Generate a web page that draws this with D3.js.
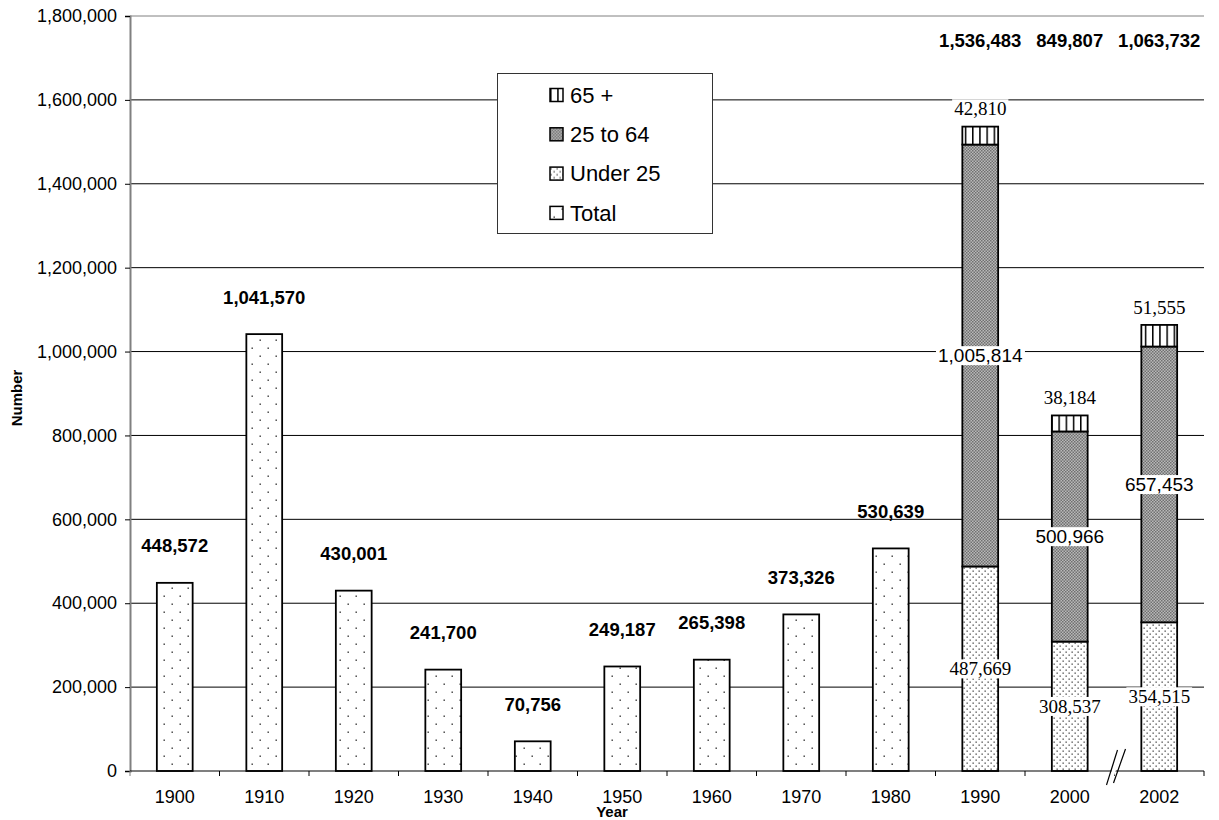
<!DOCTYPE html>
<html lang="en">
<head>
<meta charset="utf-8">
<title>Number by year</title>
<script src="https://d3js.org/d3.v7.min.js"></script>
<style>
  html, body { margin: 0; padding: 0; background: #fff; }
  svg { display: block; }
  text { font-family: Arial, "Liberation Sans", sans-serif; }
</style>
</head>
<body>
<script>

// ---- data ----
var years = ["1900", "1910", "1920", "1930", "1940", "1950", "1960", "1970", "1980", "1990", "2000", "2002"];
var totals = [448572, 1041570, 430001, 241700, 70756, 249187, 265398, 373326, 530639, 1536483, 849807, 1063732];
var under25 = [null, null, null, null, null, null, null, null, null, 487669, 308537, 354515];
var age25to64 = [null, null, null, null, null, null, null, null, null, 1005814, 500966, 657453];
var age65plus = [null, null, null, null, null, null, null, null, null, 42810, 38184, 51555];
var yTicks = [0, 200000, 400000, 600000, 800000, 1000000, 1200000, 1400000, 1600000, 1800000];
var legendNames = ["65 +", "25 to 64", "Under 25", "Total"];

var W = 1219, H = 820;
var plotL = 130, plotR = 1204, plotT = 16, plotB = 771;

var svg = d3.select("body").append("svg")
    .attr("width", W)
    .attr("height", H);

// patterns
var defs = svg.append("defs");

var pTotal = defs.append("pattern").attr("id", "pTotal")
    .attr("patternUnits", "userSpaceOnUse").attr("width", 16).attr("height", 16);
pTotal.append("rect").attr("width", 16).attr("height", 16).attr("fill", "#fff");
pTotal.append("rect").attr("x", 3.5).attr("y", 3.5).attr("width", 1.4).attr("height", 1.4).attr("fill", "#333");
pTotal.append("rect").attr("x", 11.5).attr("y", 11.5).attr("width", 1.4).attr("height", 1.4).attr("fill", "#333");

var pU25 = defs.append("pattern").attr("id", "pU25")
    .attr("patternUnits", "userSpaceOnUse").attr("width", 6).attr("height", 6);
pU25.append("rect").attr("width", 6).attr("height", 6).attr("fill", "#fff");
pU25.append("rect").attr("x", 0.5).attr("y", 0.5).attr("width", 1.3).attr("height", 1.3).attr("fill", "#444");
pU25.append("rect").attr("x", 3.5).attr("y", 3.5).attr("width", 1.3).attr("height", 1.3).attr("fill", "#444");

var pMid = defs.append("pattern").attr("id", "pMid")
    .attr("patternUnits", "userSpaceOnUse").attr("width", 3).attr("height", 3);
pMid.append("rect").attr("width", 3).attr("height", 3).attr("fill", "#b8b8b8");
pMid.append("rect").attr("width", 1.5).attr("height", 1.5).attr("fill", "#707070");
pMid.append("rect").attr("x", 1.5).attr("y", 1.5).attr("width", 1.5).attr("height", 1.5).attr("fill", "#707070");

var p65 = defs.append("pattern").attr("id", "p65")
    .attr("patternUnits", "userSpaceOnUse").attr("width", 7.2).attr("height", 10);
p65.append("rect").attr("width", 7.2).attr("height", 10).attr("fill", "#fff");
p65.append("rect").attr("x", 0).attr("width", 1.5).attr("height", 10).attr("fill", "#000");

// scales
var x = d3.scaleBand().domain(years).range([plotL, plotR])
    .paddingInner(0.6).paddingOuter(0.3);
var y = d3.scaleLinear().domain([0, 1800000]).range([plotB, plotT]);

// gridlines
svg.append("g").selectAll("line").data(yTicks.filter(function(d){ return d > 0; }))
  .enter().append("line")
    .attr("x1", plotL).attr("x2", plotR)
    .attr("y1", function(d){ return y(d); })
    .attr("y2", function(d){ return y(d); })
    .attr("stroke", function(d){ return d === 1800000 ? "#808080" : "#000"; })
    .attr("stroke-width", 1);

// y axis
var yAxis = svg.append("g")
    .attr("transform", "translate(" + plotL + ",0)")
    .call(d3.axisLeft(y).tickValues(yTicks).tickSize(5).tickPadding(8).tickFormat(d3.format(",")));
yAxis.select(".domain").attr("stroke", "#808080").attr("stroke-width", 2);
yAxis.selectAll(".tick line").attr("stroke", "#000");
yAxis.selectAll("text").attr("font-size", 18).attr("fill", "#000")
    .style("font-family", "Arial, 'Liberation Sans', sans-serif");

// total bars (single series years)
var idx = d3.range(years.length);
var singles = idx.filter(function(i){ return under25[i] === null; });
var stacked = idx.filter(function(i){ return under25[i] !== null; });

svg.append("g").selectAll("rect").data(singles).enter().append("rect")
    .attr("x", function(i){ return x(years[i]); })
    .attr("width", x.bandwidth())
    .attr("y", function(i){ return y(totals[i]); })
    .attr("height", function(i){ return y(0) - y(totals[i]); })
    .attr("fill", "url(#pTotal)")
    .attr("stroke", "#000").attr("stroke-width", 1.8);

// stacked bars
var segs = [];
stacked.forEach(function(i){
  var a = under25[i], b = age25to64[i], c = age65plus[i];
  segs.push({i: i, y0: 0, y1: a, fill: "url(#pU25)"});
  segs.push({i: i, y0: a, y1: a + b, fill: "url(#pMid)"});
  segs.push({i: i, y0: a + b, y1: a + b + c, fill: "url(#p65)"});
});
svg.append("g").selectAll("rect").data(segs).enter().append("rect")
    .attr("x", function(d){ return x(years[d.i]); })
    .attr("width", x.bandwidth())
    .attr("y", function(d){ return y(d.y1); })
    .attr("height", function(d){ return y(d.y0) - y(d.y1); })
    .attr("fill", function(d){ return d.fill; })
    .attr("stroke", "#000").attr("stroke-width", 1.8);

// x axis line and ticks at band boundaries
var step = x.step();
var x0 = x.range()[0];
svg.append("line").attr("x1", plotL).attr("x2", plotR)
    .attr("y1", plotB).attr("y2", plotB).attr("stroke", "#000").attr("stroke-width", 1.2);
svg.append("g").selectAll("line").data(d3.range(years.length + 1)).enter().append("line")
    .attr("x1", function(k){ return x0 + k * step; })
    .attr("x2", function(k){ return x0 + k * step; })
    .attr("y1", plotB).attr("y2", plotB + 5)
    .attr("stroke", function(k){ return k === 0 ? "#808080" : "#000"; });

var xAxis = svg.append("g")
    .attr("transform", "translate(0," + plotB + ")")
    .call(d3.axisBottom(x).tickSize(0).tickPadding(19));
xAxis.select(".domain").remove();
xAxis.selectAll("text").attr("font-size", 18).attr("fill", "#000")
    .style("font-family", "Arial, 'Liberation Sans', sans-serif");

// axis break between 2000 and 2002
var bx = x0 + (years.length - 1) * step;
var brk = svg.append("g");
brk.append("polygon")
    .attr("points", [[bx - 7, plotB + 14], [bx - 3, plotB + 14], [bx + 7, plotB - 20], [bx + 3, plotB - 20]].join(" "))
    .attr("fill", "#fff");
brk.append("line").attr("x1", bx - 8).attr("y1", plotB + 14).attr("x2", bx + 3).attr("y2", plotB - 21)
    .attr("stroke", "#000").attr("stroke-width", 1.2);
brk.append("line").attr("x1", bx - 1).attr("y1", plotB + 12).attr("x2", bx + 11).attr("y2", plotB - 22)
    .attr("stroke", "#000").attr("stroke-width", 1.2);

// total labels
svg.append("g").selectAll("text").data(idx).enter().append("text")
    .attr("x", function(i){ return x(years[i]) + x.bandwidth() / 2; })
    .attr("y", function(i){
      return under25[i] === null ? y(totals[i]) - 37 : y(1742000);
    })
    .attr("dy", "0.35em")
    .attr("text-anchor", "middle")
    .attr("font-size", 18.5).attr("font-weight", "bold")
    .text(function(i){ return d3.format(",")(totals[i]); });

// segment labels with white boxes
function segLabel(i, value, cy, font) {
  var g = svg.append("g");
  var t = g.append("text")
      .attr("x", x(years[i]) + x.bandwidth() / 2)
      .attr("y", cy)
      .attr("dy", "0.35em")
      .attr("text-anchor", "middle")
      .attr("font-size", 19)
      .style("font-family", font)
      .text(d3.format(",")(value));
  var bb = t.node().getBBox();
  g.insert("rect", "text")
      .attr("x", bb.x - 2).attr("y", bb.y + 1)
      .attr("width", bb.width + 4).attr("height", bb.height - 2)
      .attr("fill", "#fff");
}
var serif = "'Liberation Serif', 'Times New Roman', serif";
var sans = "Arial, 'Liberation Sans', sans-serif";
stacked.forEach(function(i){
  var a = under25[i], b = age25to64[i], c = age65plus[i];
  segLabel(i, a, y(a / 2), serif);
  segLabel(i, b, y(a + b / 2), sans);
  segLabel(i, c, y(a + b + c) - 18, serif);
});

// axis titles
svg.append("text")
    .attr("transform", "translate(17,398) rotate(-90)")
    .attr("text-anchor", "middle").attr("dy", "0.35em")
    .attr("font-size", 15).attr("font-weight", "bold")
    .text("Number");
svg.append("text")
    .attr("x", 612).attr("y", 812)
    .attr("text-anchor", "middle").attr("dy", "0.35em")
    .attr("font-size", 15).attr("font-weight", "bold")
    .text("Year");

// legend
var fills = ["url(#p65)", "url(#pMid)", "url(#pU25)", "url(#pTotal)"];
var lg = svg.append("g");
lg.append("rect").attr("x", 497.5).attr("y", 73.5).attr("width", 215).attr("height", 160)
    .attr("fill", "#fff").attr("stroke", "#333").attr("stroke-width", 1);
var items = lg.selectAll("g.item").data(legendNames).enter().append("g")
    .attr("transform", function(d, k){ return "translate(550," + (95 + k * 39.3) + ")"; });
items.append("rect").attr("x", 0).attr("y", -6.5).attr("width", 13).attr("height", 13)
    .attr("fill", function(d, k){ return fills[k]; })
    .attr("stroke", "#000").attr("stroke-width", 1.5);
items.append("text").attr("x", 20).attr("dy", "0.35em")
    .attr("font-size", 22)
    .text(function(d){ return d; });

</script>
</body>
</html>
